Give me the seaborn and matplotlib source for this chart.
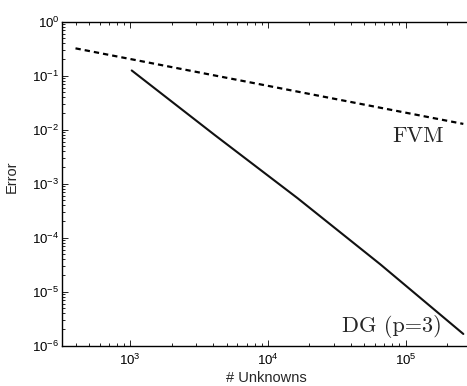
import numpy as np
import pandas as pd
import matplotlib
matplotlib.use("Agg")
import matplotlib.pyplot as plt
import seaborn as sns
from matplotlib.ticker import LogLocator, LogFormatterSciNotation, NullFormatter

# Data
fvm_unknowns = [400, 262144]
fvm_error = [0.321, 0.0128]
dg_unknowns = [1024, 4096, 16384, 65536, 262144]
dg_error = [0.125, 0.0080, 5.4e-4, 3.2e-5, 1.65e-6]

x_label = "# Unknowns"
y_label = "Error"
fvm_label = "FVM"
dg_label = "DG (p=3)"

sns.set_style("ticks")
plt.rcParams["font.family"] = ["Liberation Sans", "DejaVu Sans"]
plt.rcParams["mathtext.fontset"] = "custom"
plt.rcParams["mathtext.rm"] = "Liberation Sans"
plt.rcParams["mathtext.it"] = "Liberation Sans:italic"
plt.rcParams["mathtext.bf"] = "Liberation Sans:bold"

fig = plt.figure(figsize=(4.67, 3.86), dpi=100)
ax = fig.add_axes([62 / 467, 40.3 / 386, 408 / 467, 324 / 386])

fvm_df = pd.DataFrame({"n": fvm_unknowns, "err": fvm_error})
dg_df = pd.DataFrame({"n": dg_unknowns, "err": dg_error})

sns.lineplot(data=fvm_df, x="n", y="err", ax=ax, color="black", lw=1.6,
             linestyle=(0, (2.4, 1.8)))
sns.lineplot(data=dg_df, x="n", y="err", ax=ax, color="#111111", lw=1.5)

ax.set_xscale("log")
ax.set_yscale("log")
ax.set_xlim(10 ** 2.504, 10 ** 5.467)
ax.set_ylim(1e-6, 1e0)

ax.xaxis.set_major_locator(LogLocator(base=10, numticks=10))
ax.yaxis.set_major_locator(LogLocator(base=10, numticks=10))
ax.xaxis.set_minor_locator(LogLocator(base=10, subs=np.arange(2, 10), numticks=20))
ax.yaxis.set_minor_locator(LogLocator(base=10, subs=np.arange(2, 10), numticks=20))
ax.xaxis.set_minor_formatter(NullFormatter())
ax.yaxis.set_minor_formatter(NullFormatter())
ax.xaxis.set_major_formatter(LogFormatterSciNotation())
ax.yaxis.set_major_formatter(LogFormatterSciNotation())

for s in ["left", "bottom", "top"]:
    ax.spines[s].set_linewidth(1.0)
    ax.spines[s].set_color("black")
ax.spines["right"].set_visible(False)

ax.tick_params(which="both", direction="in", top=True, right=False, width=0.6, colors="black")
ax.tick_params(which="major", length=4, labelsize=9.5)
ax.tick_params(which="minor", length=2)
ax.tick_params(axis="x", which="major", pad=5)
ax.tick_params(axis="y", which="major", pad=2)

ax.set_xlabel(x_label, fontsize=10.5, labelpad=0)
ax.set_ylabel(y_label, fontsize=10.5, labelpad=4)
ax.yaxis.set_label_coords(-0.105, 0.52)
ax.xaxis.set_label_coords(0.5, -0.077)

ax.text(80500, 0.006, fvm_label, family="cmr10", fontsize=16, va="baseline", ha="left")
ax.text(34300, 1.82e-6, dg_label, family="cmr10", fontsize=16, va="baseline", ha="left")

fig.savefig("out.png", dpi=100)
